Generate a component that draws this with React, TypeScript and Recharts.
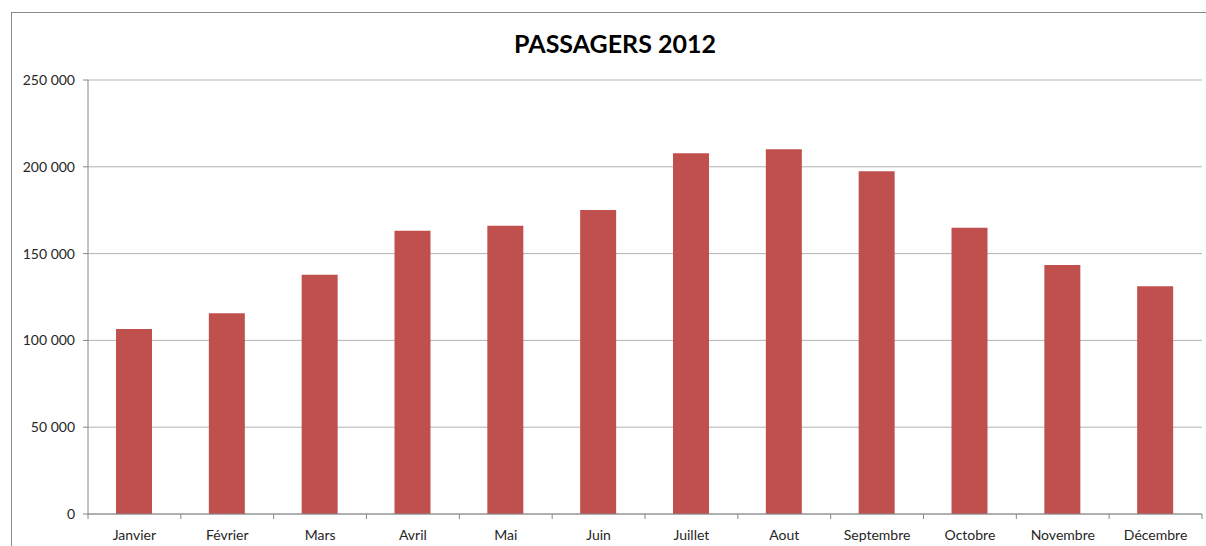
import { Bar, BarChart, CartesianGrid, XAxis, YAxis } from "recharts"

const months = ["Janvier", "Février", "Mars", "Avril", "Mai", "Juin", "Juillet", "Aout", "Septembre", "Octobre", "Novembre", "Décembre"]
const passagers = [106600, 115600, 137800, 163200, 166000, 175100, 207800, 210100, 197400, 164900, 143400, 131200]
const yTicks = [0, 50000, 100000, 150000, 200000, 250000]

const W = 1206
const H = 546
const LEFT = 88
const RIGHT = 1202
const BOTTOM = 514
const band = (RIGHT - LEFT) / months.length

const fmt = (v: number) => String(v).replace(/\B(?=(\d{3})+(?!\d))/g, " ")

function MonthTick(props: any) {
    const { x, y, payload, index } = props
    return (
        <g>
            <line x1={x - band / 2} x2={x - band / 2} y1={BOTTOM} y2={BOTTOM + 5} stroke="#868686" />
            {index === months.length - 1 && (
                <line x1={x + band / 2} x2={x + band / 2} y1={BOTTOM} y2={BOTTOM + 5} stroke="#868686" />
            )}
            <text x={x} y={y} dy={16} textAnchor="middle" fill="#262626" fontSize={14}>
                {payload.value}
            </text>
        </g>
    )
}

export default function App() {
    const data = months.map((m, i) => ({ name: m, total: passagers[i] }))

    return (
        <div style={{ position: "absolute", left: 0, top: 0, width: W, height: H, fontFamily: "Lato, sans-serif" }}>
            <div
                style={{
                    position: "absolute",
                    left: 11,
                    top: 12,
                    width: W,
                    height: H,
                    borderLeft: "1px solid #898989",
                    borderTop: "1px solid #898989",
                }}
            />
            <div
                style={{
                    position: "absolute",
                    left: 0,
                    top: 28,
                    width: 1230,
                    textAlign: "center",
                    fontWeight: "bold",
                    fontSize: 25,
                    color: "#000",
                }}
            >
                PASSAGERS 2012
            </div>
            <div style={{ position: "absolute", left: 0, top: 0 }}>
                <BarChart width={W} height={H} data={data} margin={{ top: 80, right: W - RIGHT, bottom: 2, left: 0 }}>
                    <CartesianGrid vertical={false} stroke="#b3b3b3" />
                    <XAxis
                        dataKey="name"
                        height={H - BOTTOM - 2}
                        stroke="#868686"
                        tickLine={false}
                        tick={<MonthTick />}
                        interval={0}
                        tickMargin={4}
                    />
                    <YAxis
                        width={LEFT}
                        domain={[0, 250000]}
                        ticks={yTicks}
                        stroke="#868686"
                        tickSize={5}
                        tickMargin={8}
                        tick={{ fill: "#262626", fontSize: 14 }}
                        tickFormatter={fmt}
                    />
                    <Bar dataKey="total" fill="#c0504d" barSize={36} isAnimationActive={false} />
                </BarChart>
            </div>
        </div>
    )
}
